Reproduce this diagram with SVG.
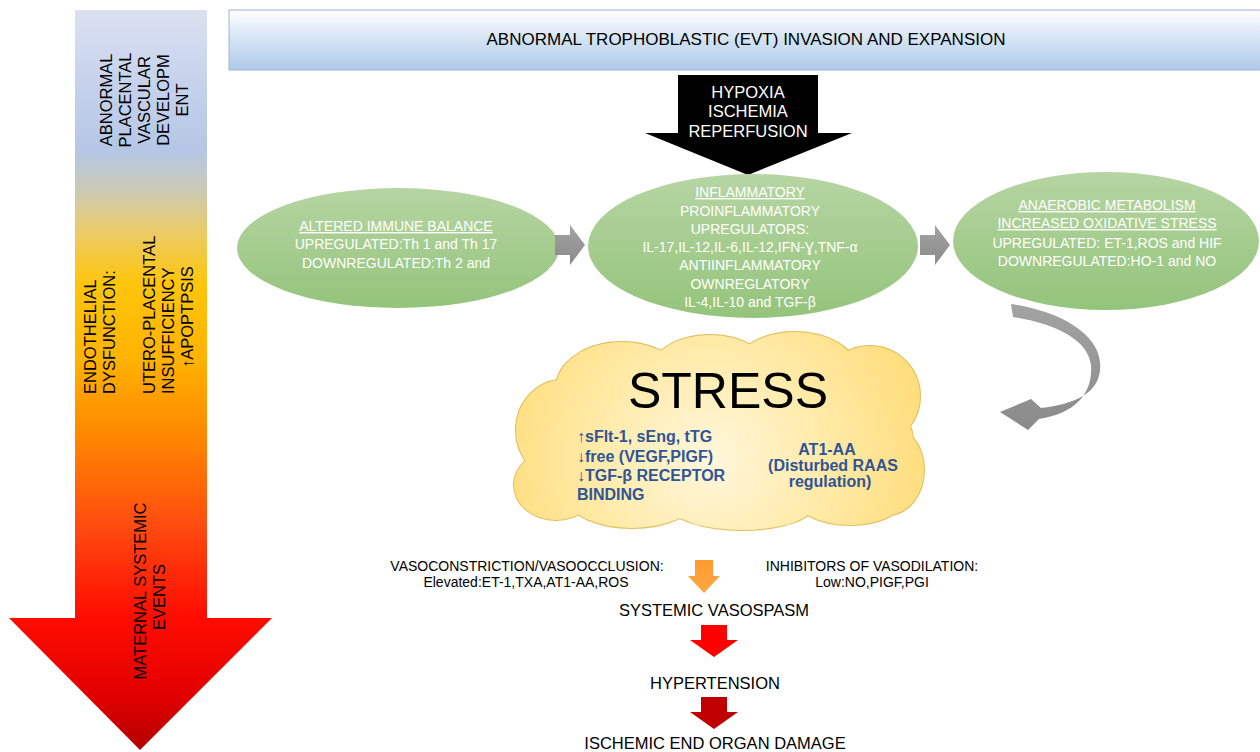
<svg xmlns="http://www.w3.org/2000/svg" width="1260" height="752" viewBox="0 0 1260 752">
<defs>
<linearGradient id="gLeft" x1="0" y1="10" x2="0" y2="750" gradientUnits="userSpaceOnUse">
<stop offset="0" stop-color="#dbe1f1"/>
<stop offset="0.1" stop-color="#c6d2ec"/>
<stop offset="0.19" stop-color="#b5c7e6"/>
<stop offset="0.245" stop-color="#cbcab4"/>
<stop offset="0.30" stop-color="#ebcb66"/>
<stop offset="0.37" stop-color="#ffc50c"/>
<stop offset="0.47" stop-color="#ffb300"/>
<stop offset="0.57" stop-color="#ff8a00"/>
<stop offset="0.70" stop-color="#ff4a10"/>
<stop offset="0.82" stop-color="#ff0c00"/>
<stop offset="0.93" stop-color="#e00000"/>
<stop offset="1" stop-color="#b30000"/>
</linearGradient>
<linearGradient id="gBanner" x1="0" y1="0" x2="0" y2="1">
<stop offset="0" stop-color="#ffffff"/>
<stop offset="0.55" stop-color="#cfe0f2"/>
<stop offset="1" stop-color="#aecbea"/>
</linearGradient>
<linearGradient id="gGreen" x1="0" y1="0" x2="0" y2="1">
<stop offset="0" stop-color="#b6d5a3"/>
<stop offset="1" stop-color="#94c47b"/>
</linearGradient>
<radialGradient id="gCloud" cx="710" cy="460" r="230" gradientUnits="userSpaceOnUse">
<stop offset="0" stop-color="#fff7dc"/>
<stop offset="0.5" stop-color="#ffeaa8"/>
<stop offset="1" stop-color="#ffdc78"/>
</radialGradient>
<linearGradient id="gGray" x1="0" y1="0" x2="0" y2="1">
<stop offset="0" stop-color="#a3a3a3"/>
<stop offset="1" stop-color="#8a8a8a"/>
</linearGradient>
<linearGradient id="gOrange" x1="0" y1="0" x2="0" y2="1">
<stop offset="0" stop-color="#ff9a2e"/>
<stop offset="1" stop-color="#ffa843"/>
</linearGradient>
<style>
.lt{font-family:"Liberation Sans",Arial,sans-serif;font-size:16.5px;fill:#000}
.wt{font-family:"Liberation Sans",Arial,sans-serif;font-size:14px;fill:#fff;text-anchor:middle}
.bt{font-family:"Liberation Sans",Arial,sans-serif;font-size:16px;font-weight:bold;fill:#2f5597}
.kt{font-family:"Liberation Sans",Arial,sans-serif;fill:#000;text-anchor:middle}
.ell{fill:url(#gGreen)}
.cs{fill:none;stroke:#e2bf5c;stroke-width:2}
.cf{fill:url(#gCloud)}
</style>
</defs>
<rect width="1260" height="752" fill="#fff"/>

<g id="left-arrow">
<polygon points="75,10 207,10 207,618 272,618 140,750 9,618 75,618" fill="url(#gLeft)"/>
<g class="lt" text-anchor="middle">
<text transform="translate(112,100) rotate(-90)">ABNORMAL</text>
<text transform="translate(131,100) rotate(-90)">PLACENTAL</text>
<text transform="translate(150,100) rotate(-90)">VASCULAR</text>
<text transform="translate(169,100) rotate(-90)">DEVELOPM</text>
<text transform="translate(188,100) rotate(-90)">ENT</text>
</g>
<g class="lt">
<text transform="translate(96,394) rotate(-90)">ENDOTHELIAL</text>
<text transform="translate(115,394) rotate(-90)">DYSFUNCTION:</text>
<text transform="translate(155,394) rotate(-90)">UTERO-PLACENTAL</text>
<text transform="translate(174,394) rotate(-90)">INSUFFICIENCY</text>
<text transform="translate(193,368) rotate(-90)">↑APOPTPSIS</text>
</g>
<g class="lt" text-anchor="middle">
<text transform="translate(146,591) rotate(-90)">MATERNAL SYSTEMIC</text>
<text transform="translate(165,597) rotate(-90)">EVENTS</text>
</g>
</g>

<g id="banner">
<rect x="229" y="10" width="1040" height="60" fill="url(#gBanner)" stroke="#9db5d8" stroke-width="1"/>
<text class="kt" x="746" y="45" font-size="17">ABNORMAL TROPHOBLASTIC (EVT) INVASION AND EXPANSION</text>
</g>

<g id="hypoxia">
<polygon points="678,75 818,75 818,133 852,133 748,175 645,133 678,133" fill="#000"/>
<g class="kt" font-size="16.5" style="fill:#fff">
<text x="748" y="98">HYPOXIA</text>
<text x="748" y="117">ISCHEMIA</text>
<text x="748" y="137">REPERFUSION</text>
</g>
</g>

<g id="immune">
<ellipse class="ell" cx="398" cy="248" rx="161" ry="60"/>
<text class="wt" x="396" y="231" text-decoration="underline">ALTERED IMMUNE BALANCE</text>
<text class="wt" x="396" y="249">UPREGULATED:Th 1 and Th 17</text>
<text class="wt" x="396" y="268">DOWNREGULATED:Th 2 and</text>
</g>

<g id="inflammatory">
<ellipse class="ell" cx="753" cy="246" rx="165" ry="72"/>
<text class="wt" x="750" y="197" text-decoration="underline">INFLAMMATORY</text>
<text class="wt" x="750" y="216">PROINFLAMMATORY</text>
<text class="wt" x="750" y="234">UPREGULATORS:</text>
<text class="wt" x="750" y="252">IL-17,IL-12,IL-6,IL-12,IFN-Ɣ,TNF-α</text>
<text class="wt" x="750" y="270">ANTIINFLAMMATORY</text>
<text class="wt" x="750" y="289">OWNREGLATORY</text>
<text class="wt" x="750" y="307">IL-4,IL-10 and TGF-β</text>
</g>

<g id="anaerobic">
<ellipse class="ell" cx="1106" cy="241" rx="153" ry="69"/>
<text class="wt" x="1107" y="210" text-decoration="underline">ANAEROBIC METABOLISM</text>
<text class="wt" x="1107" y="228" text-decoration="underline">INCREASED OXIDATIVE STRESS</text>
<text class="wt" x="1107" y="248">UPREGULATED: ET-1,ROS and HIF</text>
<text class="wt" x="1107" y="266">DOWNREGULATED:HO-1 and NO</text>
</g>

<g id="stress">
<g class="cs">
<ellipse cx="718" cy="440" rx="195" ry="80"/>
<ellipse cx="622" cy="388" rx="66" ry="46"/>
<ellipse cx="710" cy="376" rx="62" ry="41"/>
<ellipse cx="795" cy="371" rx="62" ry="39"/>
<ellipse cx="870" cy="396" rx="50" ry="50"/>
<ellipse cx="888" cy="470" rx="36" ry="45"/>
<ellipse cx="562" cy="430" rx="46" ry="50"/>
<ellipse cx="556" cy="485" rx="42" ry="35"/>
<ellipse cx="632" cy="500" rx="62" ry="28"/>
<ellipse cx="742" cy="505" rx="72" ry="25"/>
<ellipse cx="850" cy="496" rx="56" ry="29"/>
</g>
<g class="cf">
<ellipse cx="718" cy="440" rx="195" ry="80"/>
<ellipse cx="622" cy="388" rx="66" ry="46"/>
<ellipse cx="710" cy="376" rx="62" ry="41"/>
<ellipse cx="795" cy="371" rx="62" ry="39"/>
<ellipse cx="870" cy="396" rx="50" ry="50"/>
<ellipse cx="888" cy="470" rx="36" ry="45"/>
<ellipse cx="562" cy="430" rx="46" ry="50"/>
<ellipse cx="556" cy="485" rx="42" ry="35"/>
<ellipse cx="632" cy="500" rx="62" ry="28"/>
<ellipse cx="742" cy="505" rx="72" ry="25"/>
<ellipse cx="850" cy="496" rx="56" ry="29"/>
</g>
<text class="kt" x="728" y="408" font-size="50">STRESS</text>
<text class="bt" x="577" y="442">↑sFlt-1, sEng, tTG</text>
<text class="bt" x="577" y="462">↓free (VEGF,PIGF)</text>
<text class="bt" x="577" y="481">↓TGF-β RECEPTOR</text>
<text class="bt" x="577" y="500">BINDING</text>
<text class="bt" x="827" y="455" font-size="20" text-anchor="middle">AT1-AA</text>
<text class="bt" x="833" y="471" font-size="14.5" text-anchor="middle">(Disturbed RAAS</text>
<text class="bt" x="830" y="487" font-size="14.5" text-anchor="middle">regulation)</text>
</g>

<g id="vasoconstriction" class="kt" font-size="14">
<text x="527" y="571">VASOCONSTRICTION/VASOOCCLUSION:</text>
<text x="526" y="587">Elevated:ET-1,TXA,AT1-AA,ROS</text>
</g>
<g id="inhibitors" class="kt" font-size="14">
<text x="872" y="571">INHIBITORS OF VASODILATION:</text>
<text x="872" y="587">Low:NO,PIGF,PGI</text>
</g>
<g id="vasospasm"><text class="kt" x="714" y="616" font-size="16.5">SYSTEMIC VASOSPASM</text></g>
<g id="hypertension"><text class="kt" x="715" y="689" font-size="16.5">HYPERTENSION</text></g>
<g id="organ-damage"><text class="kt" x="715" y="749" font-size="16.5">ISCHEMIC END ORGAN DAMAGE</text></g>

<g id="connectors">
<polygon points="555,235 570,235 570,225 585,245 570,265 570,255 555,255" fill="url(#gGray)"/>
<polygon points="920,235 935,235 935,225 950,245 935,265 935,255 920,255" fill="url(#gGray)"/>
<path d="M1011,304 C1058,311 1097,332 1100,362 C1103,392 1076,404 1041,408 L1031,399 L1000,412 L1028,430 L1039,419 C1077,413 1093,392 1091,365 C1088,340 1057,324 1013,317 Z" fill="url(#gGray)"/>
<polygon points="695,560 713,560 713,576 720,576 704,593 688,576 695,576" fill="url(#gOrange)"/>
<polygon points="701,625 727,625 727,640 738,640 714,657 690,640 701,640" fill="#ff0000"/>
<polygon points="701,697 727,697 727,712 738,712 714,729 690,712 701,712" fill="#c00000"/>
</g>
</svg>
